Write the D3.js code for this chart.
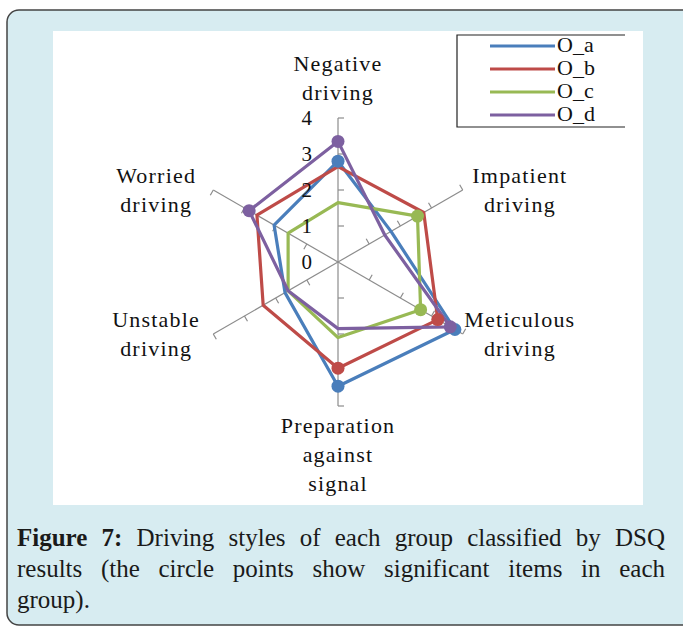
<!DOCTYPE html>
<html>
<head>
<meta charset="utf-8">
<script src="https://cdn.jsdelivr.net/npm/d3@7"></script>
<style>
  body { margin: 0; background: #fff; }
  svg { display: block; }
</style>
</head>
<body>
<div id="chart"></div>
<script>
// axes clockwise from the top
var categories = ["Negative driving", "Impatient driving", "Meticulous driving",
                  "Preparation against signal", "Unstable driving", "Worried driving"];
var categoryLines = [["Negative", "driving"], ["Impatient", "driving"], ["Meticulous", "driving"],
                     ["Preparation", "against", "signal"], ["Unstable", "driving"], ["Worried", "driving"]];
var seriesNames = ["O_a", "O_b", "O_c", "O_d"];
var O_a = [2.8, 1.7, 3.75, 3.45, 1.7, 2.05];
var O_b = [2.65, 2.75, 3.2, 2.95, 2.4, 2.6];
var O_c = [1.65, 2.55, 2.65, 2.1, 1.6, 1.6];
var O_d = [3.35, 1.5, 3.6, 1.85, 1.6, 2.85];
// significant items (circle markers) per series
var sig_a = [1, 0, 1, 1, 0, 0];
var sig_b = [0, 0, 1, 1, 0, 0];
var sig_c = [0, 1, 1, 0, 0, 0];
var sig_d = [1, 0, 1, 0, 0, 1];
var tickValues = [0, 1, 2, 3, 4];
var colors = ["#4a7ebb", "#be4b48", "#98b954", "#7d60a0"];
var caption = [
  {bold: "Figure 7:", text: "Driving styles of each group classified by DSQ", justify: true},
  {bold: "", text: "results (the circle points show significant items in each", justify: true},
  {bold: "", text: "group).", justify: false}
];

var series = [O_a, O_b, O_c, O_d];
var sigs = [sig_a, sig_b, sig_c, sig_d];

var W = 683, H = 627;
var svg = d3.select("#chart").append("svg")
    .attr("width", W)
    .attr("height", H);

// panel
svg.append("rect")
    .attr("x", 7).attr("y", 10)
    .attr("width", 720).attr("height", 615)
    .attr("rx", 12)
    .attr("fill", "#d7ecf1")
    .attr("stroke", "#444")
    .attr("stroke-width", 1.5);

svg.append("rect")
    .attr("x", 53).attr("y", 31)
    .attr("width", 590).attr("height", 474)
    .attr("fill", "#fff");

var cx = 338, cy = 262, R = 144;
var r = d3.scaleLinear().domain([0, 4]).range([0, R]);
var angle = d3.scalePoint().domain(d3.range(categories.length)).range([0, 2 * Math.PI * 5 / 6]);

var g = svg.append("g").attr("transform", "translate(" + cx + "," + cy + ")");

function pt(i, v) {
  var a = angle(i);
  return [r(v) * Math.sin(a), -r(v) * Math.cos(a)];
}

// spokes + ticks
categories.forEach(function(c, i) {
  var a = angle(i), dx = Math.sin(a), dy = -Math.cos(a);
  var end = pt(i, 4);
  g.append("line")
      .attr("x1", 0).attr("y1", 0)
      .attr("x2", end[0]).attr("y2", end[1])
      .attr("stroke", "#8c8c8c")
      .attr("stroke-width", 1.2);
  var tx = dy, ty = -dx;
  if (i === 0) { tx = -tx; ty = -ty; }
  tickValues.slice(1).forEach(function(v) {
    var p = pt(i, v);
    g.append("line")
        .attr("x1", p[0]).attr("y1", p[1])
        .attr("x2", p[0] + tx * 6).attr("y2", p[1] + ty * 6)
        .attr("stroke", "#8c8c8c")
        .attr("stroke-width", 1.2);
  });
});

// series
var line = d3.lineRadial()
    .angle(function(d, i) { return angle(i); })
    .radius(function(d) { return r(d); })
    .curve(d3.curveLinearClosed);

series.forEach(function(s, k) {
  g.append("path")
      .attr("d", line(s))
      .attr("fill", "none")
      .attr("stroke", colors[k])
      .attr("stroke-width", 3.2)
      .attr("stroke-linejoin", "round");
});
series.forEach(function(s, k) {
  g.selectAll(".m" + k)
      .data(s.map(function(v, i) { return {v: v, i: i}; }).filter(function(d) { return sigs[k][d.i]; }))
      .enter().append("circle")
      .attr("cx", function(d) { return pt(d.i, d.v)[0]; })
      .attr("cy", function(d) { return pt(d.i, d.v)[1]; })
      .attr("r", 6.5)
      .attr("fill", colors[k]);
});

// value labels
g.selectAll(".vl")
    .data(tickValues)
    .enter().append("text")
    .attr("x", -26)
    .attr("y", function(d) { return -r(d) + 2; })
    .attr("text-anchor", "end")
    .attr("dominant-baseline", "middle")
    .attr("font-family", "'Liberation Serif', 'Times New Roman', serif")
    .attr("font-size", 21)
    .attr("fill", "#111")
    .text(function(d) { return d; });

// category labels
var lh = 29;
categoryLines.forEach(function(lines, i) {
  var a = angle(i), dx = Math.sin(a), dy = -Math.cos(a);
  var x, y0;
  if (i === 0) {
    x = 0; y0 = -R - 23 - (lines.length - 1) * lh;
  } else if (i === 3) {
    x = 0; y0 = R + 22;
  } else {
    x = dx * (R + 66);
    y0 = dy * R + 2 - (lines.length - 1) * lh / 2;
  }
  var t = g.append("text")
      .attr("text-anchor", "middle")
      .attr("font-family", "'Liberation Serif', 'Times New Roman', serif")
      .attr("font-size", 22)
      .attr("letter-spacing", 1.2)
      .attr("fill", "#111");
  lines.forEach(function(l, j) {
    t.append("tspan")
        .attr("x", x)
        .attr("y", y0 + j * lh)
        .attr("dominant-baseline", "middle")
        .text(l);
  });
});

// legend
var lg = svg.append("g");
lg.append("path")
    .attr("d", "M625,35H457V127H625")
    .attr("fill", "none")
    .attr("stroke", "#222")
    .attr("stroke-width", 1.2);
var ly = d3.scalePoint().domain(seriesNames).range([46, 115]);
seriesNames.forEach(function(n, k) {
  lg.append("line")
      .attr("x1", 490).attr("x2", 555)
      .attr("y1", ly(n)).attr("y2", ly(n))
      .attr("stroke", colors[k])
      .attr("stroke-width", 3.2);
  lg.append("text")
      .attr("x", 557)
      .attr("y", ly(n) + 1)
      .attr("dominant-baseline", "middle")
      .attr("font-family", "'Liberation Serif', 'Times New Roman', serif")
      .attr("font-size", 22)
      .attr("fill", "#111")
      .text(n);
});

// caption, justified by hand
var capX0 = 17, capX1 = 665, capY = 546, capLH = 31;
caption.forEach(function(c, li) {
  var words = [];
  if (c.bold) c.bold.split(" ").forEach(function(w) { words.push({w: w, b: true}); });
  c.text.split(" ").forEach(function(w) { words.push({w: w, b: false}); });
  var nodes = words.map(function(d) {
    return svg.append("text")
        .attr("y", capY + li * capLH)
        .attr("font-family", "'Liberation Serif', 'Times New Roman', serif")
        .attr("font-size", 25)
        .attr("font-weight", d.b ? "bold" : "normal")
        .attr("fill", "#1a1a1a")
        .text(d.w);
  });
  var widths = nodes.map(function(n) { return n.node().getComputedTextLength(); });
  var total = d3.sum(widths);
  var gap = c.justify ? (capX1 - capX0 - total) / (words.length - 1) : 6;
  var x = capX0;
  nodes.forEach(function(n, k) {
    n.attr("x", x);
    x += widths[k] + gap;
  });
});
</script>
</body>
</html>
